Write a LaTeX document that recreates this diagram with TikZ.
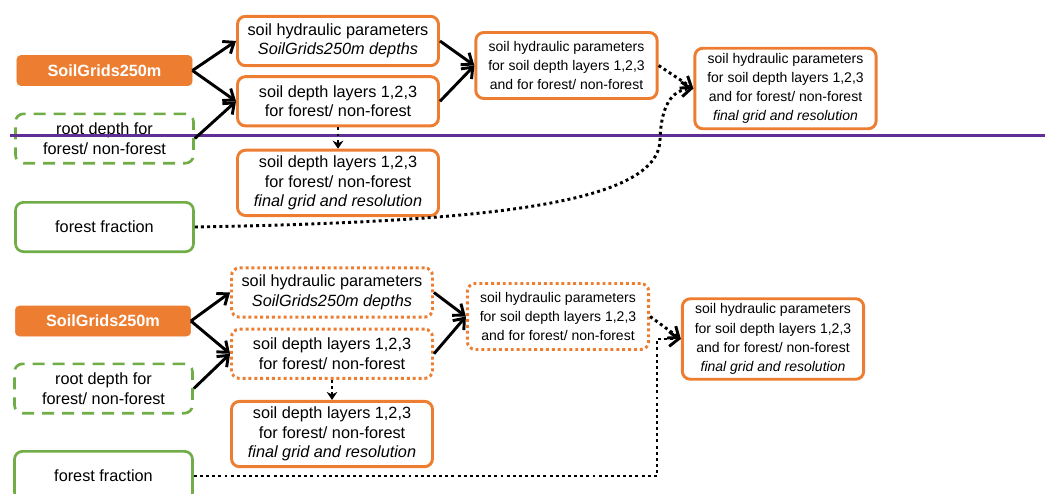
\documentclass[tikz,border=0pt]{standalone}
\usepackage{fontspec}
\setmainfont{Liberation Sans}
\usetikzlibrary{arrows.meta,positioning}
\definecolor{boxorange}{RGB}{237,125,49}
\definecolor{boxgreen}{RGB}{112,173,71}
\definecolor{splitpurple}{RGB}{96,46,148}

\begin{document}
\begin{tikzpicture}[
x=0.75pt,y=-0.75pt,
every node/.style={font=\fontsize{12.2}{14.6}\selectfont,align=center,inner sep=1pt},
src/.style={draw=boxorange,fill=boxorange,text=white,font=\fontsize{12.2}{14.6}\selectfont\bfseries,rounded corners=3pt,minimum width=131.5pt,minimum height=22.5pt},
inp/.style={draw=boxgreen,line width=2pt,rounded corners=6pt,fill=white,minimum width=133.5pt,minimum height=37pt},
rootbox/.style={inp,dash pattern=on 9pt off 6pt},
prod/.style={draw=boxorange,line width=2.2pt,rounded corners=6pt,fill=white,minimum width=150.75pt,minimum height=37pt},
prodfin/.style={prod,minimum height=49pt},
merged/.style={prod,font=\fontsize{10.5}{14.4}\selectfont,minimum width=136pt,minimum height=49.5pt},
mergedfin/.style={merged,minimum height=60.4pt},
tmp/.style={dash pattern=on 2.2pt off 2.2pt},
arr/.style={-{Straight Barb[length=7pt,width=11pt]},line width=2.2pt},
dotarr/.style={arr,dash pattern=on 2.2pt off 2.4pt},
downarr/.style={-{Stealth[length=6pt,width=8pt]},line width=2.2pt,dash pattern=on 2.2pt off 2.4pt}
]
\useasboundingbox (0,0) rectangle (1045,493);

% first variant
\node[src] (sg) at (104.5,70.5) {SoilGrids250m};
\node[rootbox] (rd) at (104.5,138.5) {root depth for\\forest/ non-forest};
\node[inp] (ff) at (104.5,227) {forest fraction};
\node[prod] (hp) at (338,41) {soil hydraulic parameters\\\textit{SoilGrids250m depths}};
\node[prod, below=6pt of hp] (dl) {soil depth layers 1,2,3\\for forest/ non-forest};
\node[prodfin, below=16pt of dl] (dlf) {soil depth layers 1,2,3\\for forest/ non-forest\\\textit{final grid and resolution}};
\node[merged] (hpl) at (566.5,65.5) {soil hydraulic parameters\\for soil depth layers 1,2,3\\and for forest/ non-forest};
\node[mergedfin] (hpf) at (785.5,88.5) {soil hydraulic parameters\\for soil depth layers 1,2,3\\and for forest/ non-forest\\\textit{final grid and resolution}};

\coordinate (sl) at (10,135.7);
\coordinate (sr) at (1045,135.7);
\draw[splitpurple,line width=2.3pt] (sl) -- (sr);

\draw[arr] (sg.east) -- (hp.west);
\draw[arr] (sg.east) -- (dl.west);
\draw[arr] (rd.east) -- (dl.west);
\draw[arr] (hp.east) -- (hpl.west);
\draw[arr] (dl.east) -- (hpl.west);
\draw[downarr] (dl.south) -- (dlf.north);
\draw[dotarr] (hpl.east) -- (hpf.west);
\draw[dotarr] (ff.east) .. controls (480,222) and (658,205) .. (660,140)
  .. controls (661,105) and (672,90) .. (hpf.west);

% second variant
\node[src] (sg2) at (103,321) {SoilGrids250m};
\node[rootbox] (rd2) at (103.5,388.5) {root depth for\\forest/ non-forest};
\node[inp] (ff2) at (103.5,476) {forest fraction};
\node[prod,tmp] (hp2) at (332,292.5) {soil hydraulic parameters\\\textit{SoilGrids250m depths}};
\node[prod,tmp, below=6.75pt of hp2] (dl2) {soil depth layers 1,2,3\\for forest/ non-forest};
\node[prodfin, below=15pt of dl2] (dlf2) {soil depth layers 1,2,3\\for forest/ non-forest\\\textit{final grid and resolution}};
\node[merged,tmp] (hpl2) at (558,316.5) {soil hydraulic parameters\\for soil depth layers 1,2,3\\and for forest/ non-forest};
\node[mergedfin] (hpf2) at (773,339) {soil hydraulic parameters\\for soil depth layers 1,2,3\\and for forest/ non-forest\\\textit{final grid and resolution}};
\coordinate (bend) at (657,339);

\draw[arr] (sg2.east) -- (hp2.west);
\draw[arr] (sg2.east) -- (dl2.west);
\draw[arr] (rd2.east) -- (dl2.west);
\draw[arr] (hp2.east) -- (hpl2.west);
\draw[arr] (dl2.east) -- (hpl2.west);
\draw[downarr] (dl2.south) -- (dlf2.north);
\draw[dotarr] (hpl2.east) -- (hpf2.west);
\draw[dotarr] (ff2.east) -| (bend) -- (hpf2.west);
\end{tikzpicture}
\end{document}
